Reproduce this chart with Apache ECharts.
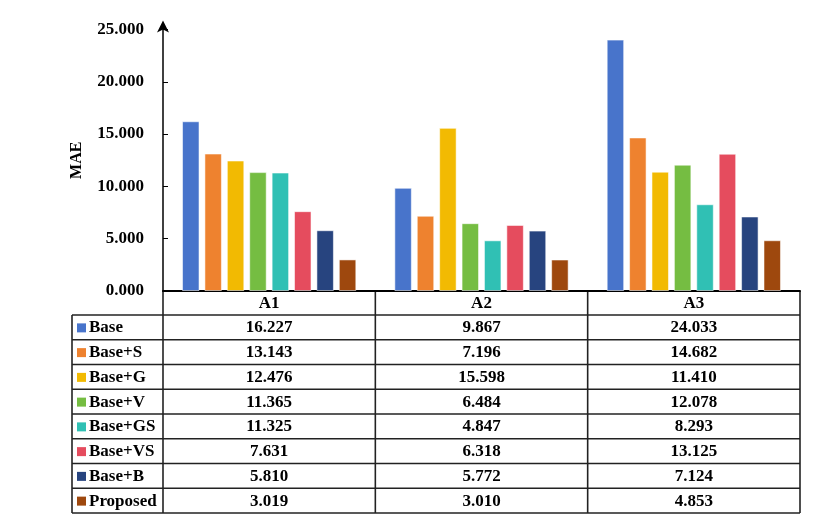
<!DOCTYPE html>
<html>
<head>
<meta charset="utf-8">
<script src="https://cdn.jsdelivr.net/npm/echarts@6/dist/echarts.min.js"></script>
<style>
  html, body { margin: 0; padding: 0; background: #fff; }
  #chart { width: 822px; height: 519px; }
</style>
</head>
<body>
<div id="chart"></div>
<script>
var categories = ["A1", "A2", "A3"];
var methods = ["Base", "Base+S", "Base+G", "Base+V", "Base+GS", "Base+VS", "Base+B", "Proposed"];
var base = [16.227, 9.867, 24.033];
var baseS = [13.143, 7.196, 14.682];
var baseG = [12.476, 15.598, 11.410];
var baseV = [11.365, 6.484, 12.078];
var baseGS = [11.325, 4.847, 8.293];
var baseVS = [7.631, 6.318, 13.125];
var baseB = [5.810, 5.772, 7.124];
var proposed = [3.019, 3.010, 4.853];
var yTicks = [0, 5, 10, 15, 20, 25];

var values = [base, baseS, baseG, baseV, baseGS, baseVS, baseB, proposed];
var colors = ["#4874CB", "#EE822F", "#F2BA02", "#75BD42", "#30C0B4", "#E54C5E", "#27447F", "#9E480E"];
var font = "'Liberation Serif', 'Times New Roman', serif";

var W = 822, H = 519;
var gridLeft = 163, gridRight = 800, gridTop = 29.5, axisY = 291;
var tableLeft = 72, headerBottom = 315, rowH = 24.75;

var myChart = echarts.init(document.getElementById("chart"));

var series = methods.map(function (name, i) {
  return {
    name: name,
    type: "bar",
    data: values[i],
    barWidth: 17.5,
    barGap: "28%",
    itemStyle: { color: colors[i], borderColor: "rgba(255,255,255,0.55)", borderWidth: 1 },
  };
});

var option = {
  animation: false,
  grid: { left: gridLeft, right: W - gridRight, top: gridTop, bottom: H - axisY },
  xAxis: {
    type: "category",
    data: categories,
    axisLine: { lineStyle: { color: "#000", width: 2 } },
    axisTick: { show: false },
    axisLabel: { margin: 4, color: "#000", fontFamily: font, fontWeight: "bold", fontSize: 17 },
  },
  yAxis: {
    type: "value",
    min: yTicks[0],
    max: yTicks[yTicks.length - 1],
    interval: yTicks[1] - yTicks[0],
    name: "MAE",
    nameLocation: "middle",
    nameGap: 78,
    nameTextStyle: { color: "#000", fontFamily: font, fontWeight: "bold", fontSize: 16 },
    axisLine: {
      show: true,
      lineStyle: { color: "#000", width: 1.5 },
      symbol: ["none", "arrow"],
      symbolSize: [9, 12],
      symbolOffset: [0, 9],
    },
    axisTick: { show: true, inside: true, length: 5, lineStyle: { color: "#000" } },
    splitLine: { show: false },
    axisLabel: {
      margin: 19,
      color: "#000",
      fontFamily: font,
      fontWeight: "bold",
      fontSize: 17,
      formatter: function (v) { return v.toFixed(3); },
    },
  },
  series: series,
};

myChart.setOption(option);

// data table under the plot
var g = [];
var lineStyle = { stroke: "#222", lineWidth: 1.6 };
var tableBottom = headerBottom + rowH * methods.length;
var colW = (gridRight - gridLeft) / categories.length;

for (var r = 0; r <= methods.length; r++) {
  var y = headerBottom + r * rowH;
  g.push({ type: "line", shape: { x1: tableLeft, y1: y, x2: gridRight, y2: y }, style: lineStyle });
}
g.push({ type: "line", shape: { x1: tableLeft, y1: headerBottom, x2: tableLeft, y2: tableBottom }, style: lineStyle });
for (var c = 0; c <= categories.length; c++) {
  var x = gridLeft + c * colW;
  g.push({ type: "line", shape: { x1: x, y1: axisY, x2: x, y2: tableBottom }, style: lineStyle });
}

methods.forEach(function (name, i) {
  var cy = headerBottom + i * rowH + rowH / 2 + 0.5;
  g.push({ type: "rect", shape: { x: 77, y: cy - 4.5, width: 9, height: 9 }, style: { fill: colors[i] } });
  g.push({
    type: "text",
    style: { x: 89, y: cy, text: name, fill: "#000", font: "bold 17px " + font, textAlign: "left", textVerticalAlign: "middle" },
  });
  categories.forEach(function (cat, j) {
    var cx = myChart.convertToPixel({ xAxisIndex: 0 }, cat);
    g.push({
      type: "text",
      style: { x: cx, y: cy, text: values[i][j].toFixed(3), fill: "#000", font: "bold 17px " + font, textAlign: "center", textVerticalAlign: "middle" },
    });
  });
});

myChart.setOption({ graphic: { elements: g } });
</script>
</body>
</html>
